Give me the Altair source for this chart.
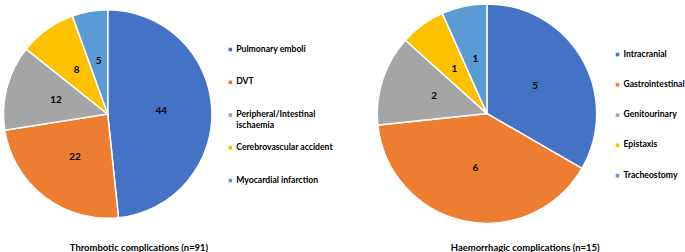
import altair as alt
import pandas as pd

# Data
thromb_cats = ["Pulmonary emboli", "DVT", "Peripheral/Intestinal|ischaemia",
               "Cerebrovascular accident", "Myocardial infarction"]
thromb_vals = [44, 22, 12, 8, 5]
haem_cats = ["Intracranial", "Gastrointestinal", "Genitourinary", "Epistaxis", "Tracheostomy"]
haem_vals = [5, 6, 2, 1, 1]
colors = ["#4472C4", "#ED7D31", "#A5A5A5", "#FFC000", "#5B9BD5"]

FONT = "Lato"


def panel(cats, vals, title, width, cx, cy, r, label_r, leg_x, leg_range, title_dx):
    df = pd.DataFrame({"cat": cats, "value": vals, "order": list(range(len(cats)))})
    color = alt.Color("cat:N", scale=alt.Scale(domain=cats, range=colors), legend=None)
    base = alt.Chart(df)
    arc = base.mark_arc(outerRadius=r, stroke="white", strokeWidth=1.5).encode(
        theta=alt.Theta("value:Q", stack=True),
        order=alt.Order("order:Q"),
        color=color,
        x=alt.value(cx), y=alt.value(cy),
    )
    labels = base.mark_text(radius=label_r, font=FONT, fontWeight="bold", fontSize=10,
                            color="black").encode(
        theta=alt.Theta("value:Q", stack=True),
        order=alt.Order("order:Q"),
        text="value:Q",
        x=alt.value(cx), y=alt.value(cy),
    )
    yleg = alt.Y("cat:N", scale=alt.Scale(domain=cats, range=leg_range, type="point",
                                          padding=0), axis=None)
    squares = base.mark_square(size=13, opacity=1).encode(
        y=yleg, x=alt.value(leg_x), color=color,
    )
    texts = base.mark_text(align="left", baseline="top", dy=-5, lineBreak="|", font=FONT,
                           fontWeight="bold", fontSize=8.7, color="black",
                           lineHeight=11).encode(
        y=yleg, x=alt.value(leg_x + 6), text="cat:N",
    )
    return alt.layer(arc, labels, squares, texts).properties(
        width=width, height=230,
        title=alt.TitleParams(title, orient="bottom", anchor="middle", frame="group",
                              dx=title_dx, offset=19, baseline="alphabetic",
                              font=FONT, fontWeight="bold", fontSize=9.5, color="black"),
    )


left = panel(thromb_cats, thromb_vals, "Thrombotic complications (n=91)", 340,
             105.5, 111, 105, 54, 229, [46, 178], -33)
right = panel(haem_cats, haem_vals, "Haemorrhagic complications (n=15)", 345,
              147.5, 110.5, 110.5, 56, 279, [51, 173], 13.5)

chart = alt.hconcat(left, right, spacing=0).properties(padding=0).configure_view(stroke=None)

chart.save("out.html", embed_options={"renderer": "svg", "actions": False})
